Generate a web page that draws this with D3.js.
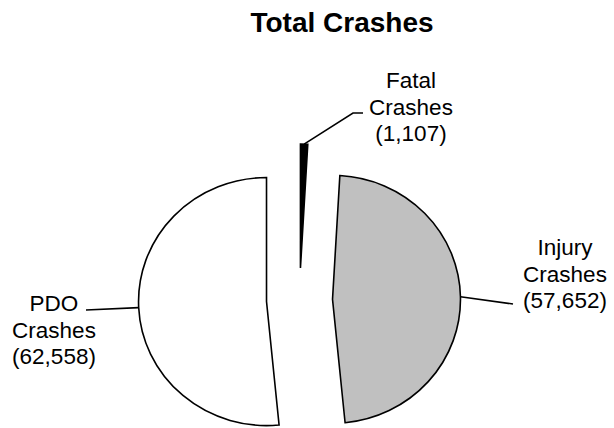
<!DOCTYPE html>
<html>
<head>
<meta charset="utf-8">
<script src="https://cdn.jsdelivr.net/npm/d3@7"></script>
<style>
  body { margin: 0; background: #fff; }
  text { font-family: Arial, "Liberation Sans", sans-serif; fill: #000; }
</style>
</head>
<body>
<div id="chart"></div>
<script>
  var categories = ["Fatal", "Injury", "PDO"];
  var values = [1107, 57652, 62558];
  var colors = ["#000000", "#c0c0c0", "#ffffff"];

  var width = 614, height = 428;
  var cx = 299.5, cy = 300, radius = 124, explode = 32, sx = 1.032;

  // where each label sits, plus the bend of its leader line
  var labelLayout = [
    { x: 411, y: 88, elbow: [[353, 113], [363, 113]] },
    { x: 565, y: 255, elbow: [[513, 304]] },
    { x: 54, y: 311, elbow: [[86, 310]] }
  ];

  var fmt = d3.format(",");

  var svg = d3.select("#chart").append("svg")
    .attr("width", width).attr("height", height);

  svg.append("text")
    .attr("x", 342).attr("y", 32)
    .attr("text-anchor", "middle")
    .style("font-size", "28px").style("font-weight", "bold")
    .text("Total Crashes");

  var pie = d3.pie().sort(null).value(function(d) { return d; });
  var arcs = pie(values);
  var arc = d3.arc().innerRadius(0).outerRadius(radius);

  var g = svg.append("g")
    .attr("transform", "translate(" + cx + "," + cy + ") scale(" + sx + ",1)");

  g.selectAll("path").data(arcs).enter().append("path")
    .attr("d", arc)
    .attr("transform", function(d) {
      var m = (d.startAngle + d.endAngle) / 2;
      return "translate(" + explode * Math.sin(m) + "," + (-explode * Math.cos(m)) + ")";
    })
    .style("fill", function(d, i) { return colors[i]; })
    .style("stroke", "#000")
    .style("stroke-width", 1.6)
    .attr("vector-effect", "non-scaling-stroke")
    .style("stroke-linejoin", "miter");

  var line = d3.line();

  arcs.forEach(function(d, i) {
    var m = (d.startAngle + d.endAngle) / 2;
    var start = [cx + sx * (explode + radius) * Math.sin(m), cy - (explode + radius) * Math.cos(m)];
    var lay = labelLayout[i];
    svg.append("path")
      .attr("d", line([start].concat(lay.elbow)))
      .style("fill", "none").style("stroke", "#000").style("stroke-width", 1.6);

    var t = svg.append("text")
      .attr("text-anchor", "middle")
      .style("font-size", "22.5px");
    var lines = [categories[i], "Crashes", "(" + fmt(values[i]) + ")"];
    lines.forEach(function(s, k) {
      t.append("tspan").attr("x", lay.x).attr("y", lay.y + k * 26.5).text(s);
    });
  });
</script>
</body>
</html>
